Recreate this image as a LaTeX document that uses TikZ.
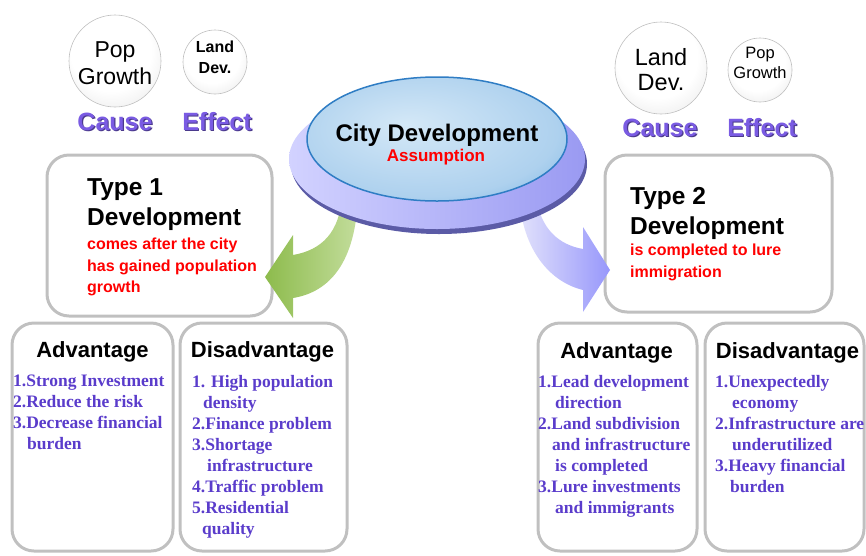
\documentclass[tikz,border=0pt]{standalone}
\usepackage{fontspec}
\setmainfont{Liberation Serif}
\setsansfont{Liberation Sans}
\usetikzlibrary{shapes.geometric}

\definecolor{listviolet}{HTML}{5A3CCB}
\definecolor{causeviolet}{HTML}{7A5BE3}
\definecolor{causeshadow}{HTML}{4B3A8C}
\definecolor{boxgray}{HTML}{C0C0C0}
\definecolor{leafgreen}{HTML}{8DBB4C}
\definecolor{palegreen}{HTML}{C3DD9C}
\definecolor{paleblue}{HTML}{E2E2FB}
\definecolor{midblue}{HTML}{9797FB}
\definecolor{discA}{HTML}{D2D2FF}
\definecolor{discB}{HTML}{9A9AF2}
\definecolor{discedge}{HTML}{5B5BA6}
\definecolor{lensrim}{HTML}{2F7DC4}
\definecolor{lensA}{HTML}{D4E8F7}
\definecolor{lensB}{HTML}{AED1EE}
\definecolor{lensC}{HTML}{7CB6E4}
\definecolor{lensD}{HTML}{519DD9}
\definecolor{lensE}{HTML}{3585CC}

% pearl-grey ball and glassy lens
\pgfdeclareradialshading{pearl}{\pgfpoint{-4bp}{10bp}}{color(0bp)=(white); color(22bp)=(white); color(38bp)=(black!10); color(50bp)=(black!30)}
\pgfdeclareradialshading{lens}{\pgfpoint{-6bp}{6bp}}{color(0bp)=(lensA); color(26bp)=(lensB); color(37bp)=(lensC); color(44bp)=(lensD); color(50bp)=(lensE)}

% text with a small dark drop shadow
\newcommand\dropshadowed[1]{\makebox[0pt][l]{\hspace{1.2pt}\raisebox{-1.2pt}{\textcolor{causeshadow}{#1}}}#1}

\tikzset{
  ball/.style={circle, draw=black!25, line width=0.6pt, shade, shading=pearl, inner sep=0},
  balltext/.style={font=\sffamily, align=center, inner sep=0},
  cause/.style={font=\sffamily\bfseries\fontsize{25}{25}\selectfont, text=causeviolet, anchor=base, inner sep=0},
  typehead/.style={font=\sffamily\bfseries\fontsize{24.5}{30}\selectfont, align=left, anchor=north west, inner sep=0},
  typenote/.style={font=\sffamily\bfseries\fontsize{16}{21.5}\selectfont, text=red, align=left, anchor=north west, inner sep=0},
  panel/.style={draw=boxgray, line width=3pt, rounded corners=22pt, inner sep=0},
  colhead/.style={font=\sffamily\bfseries\fontsize{22}{22}\selectfont, anchor=base, inner sep=0},
  itemlist/.style={font=\rmfamily\bfseries\fontsize{17.5}{21}\selectfont, text=listviolet, align=left, anchor=north west, inner sep=0},
}

\begin{document}
\begin{tikzpicture}[x=1pt,y=-1pt]
\useasboundingbox (0,0) rectangle (866,555);

% ---------- panels ----------
\node[panel, minimum width=225pt, minimum height=161pt] (type1box) at (159.5,235.5) {};
\node[panel, minimum width=227pt, minimum height=157pt] (type2box) at (718.5,233.5) {};
\node[panel, minimum width=161pt, minimum height=228pt] (adv1) at (92.5,437) {};
\node[panel, minimum width=167pt, minimum height=228pt] (dis1) at (263.5,437) {};
\node[panel, minimum width=159pt, minimum height=228pt] (adv2) at (617.5,437) {};
\node[panel, minimum width=159pt, minimum height=228pt] (dis2) at (784.5,437) {};

% ---------- cause / effect balls ----------
\node[ball, minimum size=92pt] (popL) at (115,61) {};
\node[balltext, font=\sffamily\fontsize{23}{27}\selectfont] (popLt) at (115,63.5) {Pop\\Growth};
\node[ball, minimum size=64pt] (landL) at (215,62) {};
\node[balltext, font=\sffamily\bfseries\fontsize{16}{21}\selectfont] (landLt) at (215,57.5) {Land\\Dev.};
\node[cause] (causeL) at (115,130) {\dropshadowed{Cause}};
\node[cause] (effectL) at (217,130) {\dropshadowed{Effect}};

\node[ball, minimum size=92pt] (landR) at (661,68) {};
\node[balltext, font=\sffamily\fontsize{23.5}{25}\selectfont] (landRt) at (661,69.5) {Land\\Dev.};
\node[ball, minimum size=64pt] (popR) at (760,70) {};
\node[balltext, font=\sffamily\fontsize{16.5}{20}\selectfont] (popRt) at (760,63) {Pop\\Growth};
\node[cause] (causeR) at (660,136) {\dropshadowed{Cause}};
\node[cause] (effectR) at (762,136) {\dropshadowed{Effect}};

% ---------- curved arrows out of the central lens ----------
\shade[left color=leafgreen, right color=palegreen]
  (293,255) .. controls (322,250) and (340,232) .. (342,195)
  -- (358,195) .. controls (356,262) and (330,292) .. (293,298)
  -- (293,318) -- (265,277) -- (293,235) -- cycle;
\shade[left color=paleblue, right color=midblue]
  (583,249) .. controls (560,245) and (540,230) .. (536,195)
  -- (519,195) .. controls (522,250) and (550,282) .. (583,290)
  -- (583,312) -- (610,270) -- (583,227) -- cycle;

% ---------- central lens ----------
\node[ellipse, fill=discedge, minimum width=296pt, minimum height=140pt, inner sep=0] (discedge) at (439,164) {};
\node[ellipse, left color=discA, right color=discB, minimum width=296pt, minimum height=140pt, inner sep=0] (disc) at (437,159) {};
\node[ellipse, shade, shading=lens, draw=lensrim, line width=1.5pt, minimum width=260pt, minimum height=124pt, inner sep=0] (city) at (437,139) {};
\node[font=\sffamily\bfseries\fontsize{24}{24}\selectfont, anchor=base, inner sep=0] (citytitle) at (437,141) {City Development};
\node[font=\sffamily\bfseries\fontsize{17}{17}\selectfont, text=red, anchor=base, inner sep=0] (citysub) at (436,161) {Assumption};

% ---------- development types ----------
\node[typehead] (type1) at (87,178) {Type 1\\Development};
\node[typenote] (type1note) at (87,238) {comes after the city\\has gained population\\growth};
\node[typehead] (type2) at (630,187) {Type 2\\Development};
\node[typenote] (type2note) at (630,244) {is completed to lure\\immigration};

% ---------- advantage / disadvantage lists ----------
\node[colhead] (adv1h) at (92.5,357) {Advantage};
\node[colhead] (dis1h) at (262.5,357) {Disadvantage};
\node[colhead] (adv2h) at (616.5,358) {Advantage};
\node[colhead] (dis2h) at (787.5,358) {Disadvantage};

\node[itemlist] (adv1l) at (13,375)
  {1.Strong Investment\\2.Reduce the risk\\3.Decrease financial\\\hspace*{14pt}burden};
\node[itemlist] (dis1l) at (192,375)
  {1. High population\\\hspace*{11pt}density\\2.Finance problem\\3.Shortage\\\hspace*{15pt}infrastructure\\4.Traffic problem\\5.Residential\\\hspace*{10pt}quality};
\node[itemlist] (adv2l) at (538,375)
  {1.Lead development\\\hspace*{17pt}direction\\2.Land subdivision\\\hspace*{14pt}and infrastructure\\\hspace*{17pt}is completed\\3.Lure investments\\\hspace*{17pt}and immigrants};
\node[itemlist] (dis2l) at (715,375)
  {1.Unexpectedly\\\hspace*{17pt}economy\\2.Infrastructure are\\\hspace*{17pt}underutilized\\3.Heavy financial\\\hspace*{15pt}burden};

\end{tikzpicture}
\end{document}
